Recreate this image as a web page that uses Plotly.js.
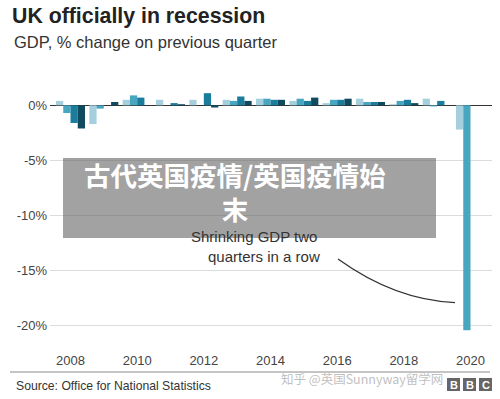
<!DOCTYPE html>
<html>
<head>
<meta charset="utf-8">
<script src="https://cdn.plot.ly/plotly-3.0.1.min.js"></script>
<style>html,body{margin:0;padding:0;background:#fff;}#chart{width:500px;height:399px;}</style>
</head>
<body>
<div id="chart"></div>
<script>
// Quarterly GDP growth, % change on previous quarter
var years = [2008, 2009, 2010, 2011, 2012, 2013, 2014, 2015, 2016, 2017, 2018, 2019, 2020];
var q1 = [0.4, -1.7, 0.5, 0.5, 0.5, 0.5, 0.6, 0.4, 0.2, 0.6, 0.1, 0.6, -2.2];
var q2 = [-0.7, -0.3, 0.9, 0.0, 0.0, 0.4, 0.6, 0.6, 0.5, 0.3, 0.4, -0.1, -20.4];
var q3 = [-1.6, 0.0, 0.7, 0.2, 1.1, 0.8, 0.5, 0.4, 0.5, 0.3, 0.5, 0.4, null];
var q4 = [-2.1, 0.3, 0.0, 0.1, -0.2, 0.4, 0.5, 0.7, 0.6, 0.3, 0.2, 0.0, null];
var quarterNames = ['Q1', 'Q2', 'Q3', 'Q4'];
var quarterColors = ['#a5cfdc', '#48a6c0', '#1b7c9c', '#0f4a5e'];
var tickYears = [2008, 2010, 2012, 2014, 2016, 2018, 2020];
var yTicks = [0, -5, -10, -15, -20];
var yTickText = ['0%', '-5%', '-10%', '-15%', '-20%'];

var FONT = 'Liberation Sans, Arial, Helvetica, sans-serif';
var CJK = 'Noto Sans CJK SC, sans-serif';

// plot area in pixels
var L = 50, R = 492, T = 88, B = 345;
function px(x) { return (x - L) / (R - L); }
function py(y) { return (B - y) / (B - T); }

var series = [q1, q2, q3, q4];
var traces = series.map(function (vals, i) {
  return {
    type: 'bar', x: years, y: vals, name: quarterNames[i],
    marker: {color: quarterColors[i], line: {width: 0}},
    hoverinfo: 'x+y+name'
  };
});

var layout = {
  width: 500, height: 399,
  margin: {l: L, r: 500 - R, t: T, b: 399 - B, pad: 0},
  paper_bgcolor: '#ffffff', plot_bgcolor: '#ffffff',
  showlegend: false,
  barmode: 'group', bargap: 0.13, bargroupgap: 0,
  font: {family: FONT, color: '#444', size: 13},
  title: {
    text: '<b>UK officially in recession</b>',
    font: {family: FONT, size: 21.3, color: '#222'},
    x: 12 / 500, xref: 'container', xanchor: 'left',
    y: 1 - 16 / 399, yref: 'container', yanchor: 'middle'
  },
  xaxis: {
    range: [2007.385, 2020.645], tickvals: tickYears, ticktext: tickYears.map(String),
    showgrid: false, zeroline: false, showline: false, ticks: '',
    tickfont: {family: FONT, size: 13, color: '#444'}, ticklabelstandoff: 6, fixedrange: true
  },
  yaxis: {
    range: [-21.73, 1.57], tickvals: yTicks, ticktext: yTickText,
    showgrid: true, gridcolor: '#dcdcdc', gridwidth: 1,
    zeroline: true, zerolinecolor: '#333', zerolinewidth: 1.5,
    showline: false, ticks: '', tickfont: {family: FONT, size: 13, color: '#444'},
    ticklabelstandoff: 2, fixedrange: true
  },
  shapes: [
    // pointer curve
    {type: 'path', xref: 'x', yref: 'y', layer: 'above',
     path: 'M 2016.025,-13.93 Q 2017.735,-17.65 2019.535,-17.88',
     line: {color: '#333', width: 1.3}},
    // grey overlay box
    {type: 'rect', xref: 'paper', yref: 'paper', layer: 'above',
     x0: px(63), x1: px(436), y0: py(238), y1: py(158),
     fillcolor: 'rgba(100,100,100,0.6)', line: {width: 0}},
    // footer rule
    {type: 'line', xref: 'paper', yref: 'paper', layer: 'above',
     x0: px(10), x1: px(490), y0: py(372), y1: py(372),
     line: {color: '#8a8a8a', width: 1}},
    // BBC blocks
    {type: 'rect', xref: 'paper', yref: 'paper', x0: px(447), x1: px(460), y0: py(391), y1: py(378), fillcolor: '#666', line: {width: 0}},
    {type: 'rect', xref: 'paper', yref: 'paper', x0: px(463), x1: px(476), y0: py(391), y1: py(378), fillcolor: '#666', line: {width: 0}},
    {type: 'rect', xref: 'paper', yref: 'paper', x0: px(479), x1: px(492), y0: py(391), y1: py(378), fillcolor: '#666', line: {width: 0}}
  ],
  annotations: [
    {text: 'GDP, % change on previous quarter', xref: 'paper', yref: 'paper',
     x: px(12), y: py(42), xanchor: 'left', yanchor: 'middle', showarrow: false,
     font: {family: FONT, size: 16.5, color: '#333'}},
    {text: 'Shrinking GDP two', xref: 'paper', yref: 'paper',
     x: px(254), y: py(236), xanchor: 'center', yanchor: 'middle', showarrow: false,
     font: {family: FONT, size: 15, color: '#333'}},
    {text: 'quarters in a row', xref: 'paper', yref: 'paper',
     x: px(264), y: py(256), xanchor: 'center', yanchor: 'middle', showarrow: false,
     font: {family: FONT, size: 15, color: '#333'}},
    {text: '<b>古代英国疫情/英国疫情始<br>末</b>', xref: 'paper', yref: 'paper',
     x: px(235), y: py(191.5), xanchor: 'center', yanchor: 'middle', align: 'center', showarrow: false,
     font: {family: CJK, size: 26.5, color: '#ffffff'}},
    {text: 'Source: Office for National Statistics', xref: 'paper', yref: 'paper',
     x: px(14), y: py(386), xanchor: 'left', yanchor: 'middle', showarrow: false,
     font: {family: FONT, size: 12.2, color: '#333'}},
    {text: '知乎 @英国Sunnyway留学网', xref: 'paper', yref: 'paper',
     x: px(362), y: py(378), xanchor: 'center', yanchor: 'middle', showarrow: false,
     font: {family: CJK, size: 12.5, color: 'rgba(170,170,170,0.75)'}},
    {text: '<b>B</b>', xref: 'paper', yref: 'paper', x: px(453.5), y: py(385), xanchor: 'center', yanchor: 'middle', showarrow: false, font: {family: FONT, size: 11, color: '#fff'}},
    {text: '<b>B</b>', xref: 'paper', yref: 'paper', x: px(469.5), y: py(385), xanchor: 'center', yanchor: 'middle', showarrow: false, font: {family: FONT, size: 11, color: '#fff'}},
    {text: '<b>C</b>', xref: 'paper', yref: 'paper', x: px(485.5), y: py(385), xanchor: 'center', yanchor: 'middle', showarrow: false, font: {family: FONT, size: 11, color: '#fff'}}
  ]
};

Plotly.newPlot('chart', traces, layout, {displayModeBar: false, staticPlot: true});
</script>
</body>
</html>
